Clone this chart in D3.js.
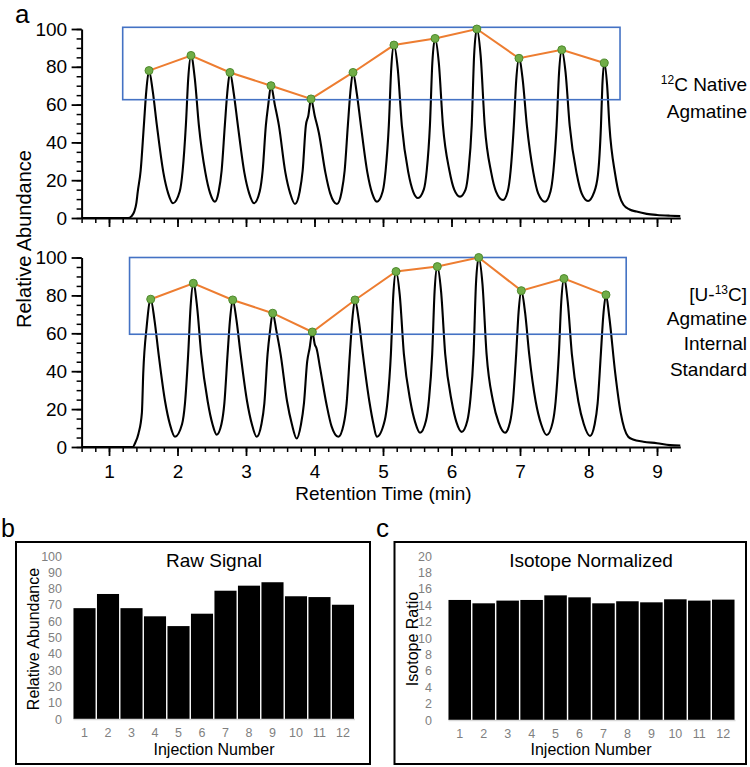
<!DOCTYPE html>
<html><head><meta charset="utf-8">
<script src="https://cdn.jsdelivr.net/npm/d3@7"></script>
<style>
body{margin:0;background:#fff}
svg{display:block}
text{font-family:"Liberation Sans",Arial,sans-serif}
</style>
</head><body>
<svg id="fig" width="750" height="767"></svg>
<script>
// ---------- DATA ----------
// Chromatogram traces: [retention time (min), relative abundance]
const nativeTrace = [
 [0.6,0],[1.28,0],[1.33,1],[1.37,3.5],[1.40,8],
 [1.42,14],[1.462,25],[1.509,49],[1.544,67],[1.584,78],[1.639,67],[1.699,49],[1.794,24],[1.864,13],[1.934,7.8],
 [2.032,14],[2.075,25],[2.122,49],[2.157,74],[2.197,86],[2.252,74],[2.312,49],[2.407,24],[2.477,13],[2.547,8.6],
 [2.601,14],[2.644,25],[2.691,49],[2.726,66],[2.766,77],[2.821,66],[2.881,49],[2.976,24],[3.046,13],[3.117,7.8],
 [3.200,14],[3.243,25],[3.290,49],[3.325,60],[3.365,70],[3.420,60],[3.480,49],[3.575,24],[3.645,13],[3.715,7.4],
 [3.784,14],[3.827,25],[3.874,49],[3.909,54],[3.949,63],[4.004,54],[4.064,45],[4.159,24],[4.229,13],[4.328,7.4],
 [4.397,14],[4.440,25],[4.487,49],[4.522,66],[4.562,77],[4.617,66],[4.677,49],[4.772,24],[4.842,13],[4.912,8.6],
 [4.995,14],[5.038,25],[5.085,49],[5.120,79],[5.160,91.5],[5.215,79],[5.275,49],[5.370,24],[5.440,14],[5.511,10.6],
 [5.595,15],[5.638,25],[5.685,49],[5.720,82],[5.760,95],[5.815,82],[5.875,49],[5.970,25],[6.040,15],[6.124,11.3],
 [6.205,15],[6.248,25],[6.295,49],[6.330,86],[6.370,100],[6.425,86],[6.485,49],[6.580,24],[6.650,14],[6.752,9.5],
 [6.820,14],[6.863,25],[6.910,49],[6.945,73],[6.985,84.5],[7.040,73],[7.100,49],[7.195,24],[7.265,13],[7.365,8.6],
 [7.445,14],[7.488,25],[7.535,49],[7.570,77],[7.610,89],[7.665,77],[7.725,49],[7.830,23],[7.900,13],[7.993,9],
 [8.075,13],[8.138,23],[8.182,49],[8.202,70],[8.230,82],[8.272,70],[8.305,49],[8.390,23],[8.450,12],[8.510,7],
 [8.600,4.5],[8.700,3.4],[8.850,2.2],[9.000,1.6],[9.190,1.2],[9.340,1]
];
const nativePeakTimes   = [1.584,2.197,2.766,3.365,3.949,4.562,5.16,5.76,6.37,6.985,7.61,8.23];
const nativePeakHeights = [78,86,77,70,63,77,91.5,95,100,84.5,89,82];
const nativeBoxTimes  = [1.2,8.46];
const nativeBoxValues = [62.6,100.9];

const labeledTrace = [
 [0.6,0],[1.35,0],[1.38,2],[1.43,7],
 [1.48,18],[1.50,39],[1.55,63.5],[1.609,78],[1.664,67],[1.724,49],[1.819,24],[1.889,12],[1.963,5.4],
 [2.066,12],[2.109,23],[2.156,49],[2.191,74],[2.231,86.4],[2.286,74],[2.346,49],[2.441,24],[2.511,12],[2.572,6.5],
 [2.641,12],[2.684,23],[2.731,49],[2.766,67],[2.806,77.6],[2.861,67],[2.921,49],[3.016,24],[3.086,12],[3.156,5.4],
 [3.225,12],[3.268,23],[3.315,49],[3.350,61],[3.390,70.6],[3.445,61],[3.505,49],[3.600,24],[3.670,12],[3.740,4.5],
 [3.803,12],[3.846,23],[3.893,45],[3.928,52],[3.968,60.7],[4.005,54],[4.030,52],[4.080,42],[4.178,22],[4.248,11],[4.348,5.4],
 [4.426,12],[4.469,23],[4.516,49],[4.551,67],[4.591,77.6],[4.646,67],[4.706,49],[4.801,24],[4.861,12],[4.908,5.4],
 [5.025,14],[5.068,25],[5.115,49],[5.150,80],[5.190,92.6],[5.245,80],[5.305,49],[5.400,24],[5.470,13],[5.540,7.5],
 [5.628,14],[5.671,25],[5.718,49],[5.753,82],[5.793,95.2],[5.848,82],[5.908,49],[6.003,24],[6.073,13],[6.149,8],
 [6.232,14],[6.275,25],[6.322,49],[6.357,86],[6.397,100],[6.452,86],[6.512,49],[6.607,24],[6.687,13],[6.781,7.5],
 [6.854,13],[6.897,24],[6.944,49],[6.979,71],[7.019,82.5],[7.074,71],[7.134,49],[7.229,24],[7.309,12],[7.390,6.3],
 [7.477,13],[7.520,24],[7.567,49],[7.602,76.5],[7.642,88.9],[7.697,76.5],[7.757,49],[7.852,24],[7.932,12],[8.022,5.8],
 [8.090,12],[8.133,23],[8.180,49],[8.215,69],[8.255,80.3],[8.302,69],[8.390,39],[8.470,18],[8.580,5.4],[8.650,4],
 [8.800,2.8],[9.000,2],[9.190,1],[9.340,0.8]
];
const labeledPeakTimes   = [1.609,2.231,2.806,3.390,3.968,4.591,5.190,5.793,6.397,7.019,7.642,8.255];
const labeledPeakHeights = [78,86.4,77.6,70.6,60.7,77.6,92.6,95.2,100,82.5,88.9,80.3];
const labeledBoxTimes  = [1.30,8.55];
const labeledBoxValues = [59.5,100];

const rtTicks = [1,2,3,4,5,6,7,8,9];
const abundanceTicks = [0,20,40,60,80,100];

// Bar charts
const injections = [1,2,3,4,5,6,7,8,9,10,11,12];
const rawSignal = [68,76.7,68,63,57,64.6,78.7,81.8,83.9,75.3,74.8,70.1];
const isotopeRatio = [14.64,14.23,14.56,14.64,15.2,14.96,14.23,14.48,14.35,14.72,14.56,14.68];
const rawTicks = [0,10,20,30,40,50,60,70,80,90,100];
const ratioTicks = [0,2,4,6,8,10,12,14,16,18,20];

// ---------- DRAW ----------
const svg = d3.select("#fig");
const FONT = '"Liberation Sans",Arial,sans-serif';
const ORANGE = "#ED7D31", GREEN = "#70AD47", GREEN_DARK = "#4E8A2E", BLUE = "#4472C4";

const x = d3.scaleLinear().domain([0.6, 9.34]).range([81.6, 680.3]);

function chromatogram(trace, pTimes, pHeights, boxT, boxV, yBottom, yTop, showLabels) {
  const y = d3.scaleLinear().domain([0, 100]).range([yBottom, yTop]);
  const g = svg.append("g");

  g.append("g").attr("transform", `translate(${x(0.6)},0)`)
    .call(d3.axisLeft(y).tickValues(d3.range(0, 101, 5)).tickSize(5).tickSizeOuter(0).tickFormat(""))
    .call(a => a.select(".domain").remove())
    .call(a => a.selectAll("line").attr("stroke", "#000").attr("stroke-width", 1.5));
  g.append("g").attr("transform", `translate(${x(0.6)},0)`)
    .call(d3.axisLeft(y).tickValues(abundanceTicks).tickSize(10).tickSizeOuter(0).tickPadding(4.5))
    .call(a => a.select(".domain").attr("stroke", "#000").attr("stroke-width", 2))
    .call(a => a.selectAll("line").attr("stroke", "#000").attr("stroke-width", 1.8))
    .call(a => a.selectAll("text").attr("font-size", 19).attr("fill", "#000").attr("font-family", FONT));

  g.append("g").attr("transform", `translate(0,${yBottom})`)
    .call(d3.axisBottom(x).tickValues(d3.range(3, 47).map(i => i / 5)).tickSize(5).tickSizeOuter(0).tickFormat(""))
    .call(a => a.select(".domain").remove())
    .call(a => a.selectAll("line").attr("stroke", "#000").attr("stroke-width", 1.5));
  g.append("g").attr("transform", `translate(0,${yBottom})`)
    .call(d3.axisBottom(x).tickValues(rtTicks).tickSize(9).tickSizeOuter(0).tickPadding(8.5)
      .tickFormat(showLabels ? d3.format("d") : ""))
    .call(a => a.select(".domain").attr("stroke", "#000").attr("stroke-width", 2))
    .call(a => a.selectAll("line").attr("stroke", "#000").attr("stroke-width", 1.8))
    .call(a => a.selectAll("text").attr("font-size", 19).attr("fill", "#000").attr("font-family", FONT));

  const line = d3.line().x(d => x(d[0])).y(d => y(d[1])).curve(d3.curveMonotoneX);
  g.append("path").datum(trace).attr("d", line)
    .attr("fill", "none").attr("stroke", "#000").attr("stroke-width", 2.1).attr("stroke-linejoin", "round");

  g.append("rect")
    .attr("x", x(boxT[0])).attr("y", y(boxV[1]))
    .attr("width", x(boxT[1]) - x(boxT[0])).attr("height", y(boxV[0]) - y(boxV[1]))
    .attr("fill", "none").attr("stroke", BLUE).attr("stroke-width", 1.6);

  const peaks = pTimes.map((t, i) => [t, pHeights[i]]);
  g.append("path").datum(peaks)
    .attr("d", d3.line().x(d => x(d[0])).y(d => y(d[1])))
    .attr("fill", "none").attr("stroke", ORANGE).attr("stroke-width", 2);
  g.selectAll("circle.pk").data(peaks).join("circle")
    .attr("cx", d => x(d[0])).attr("cy", d => y(d[1])).attr("r", 4)
    .attr("fill", GREEN).attr("stroke", GREEN_DARK).attr("stroke-width", 1);
}

chromatogram(nativeTrace, nativePeakTimes, nativePeakHeights, nativeBoxTimes, nativeBoxValues, 218, 29, false);
chromatogram(labeledTrace, labeledPeakTimes, labeledPeakHeights, labeledBoxTimes, labeledBoxValues, 447, 257.5, true);

svg.append("text").attr("transform", "translate(31,239) rotate(-90)")
  .attr("text-anchor", "middle").attr("font-size", 20).text("Relative Abundance");
svg.append("text").attr("x", 383.5).attr("y", 500).attr("text-anchor", "middle")
  .attr("font-size", 19).text("Retention Time (min)");

svg.append("text").attr("x", 15).attr("y", 23).attr("font-size", 26).text("a");
svg.append("text").attr("x", 1).attr("y", 537).attr("font-size", 25).text("b");
svg.append("text").attr("x", 376).attr("y", 537).attr("font-size", 26).text("c");

function rlabel(y, parts) {
  const t = svg.append("text").attr("x", 747).attr("y", y).attr("text-anchor", "end").attr("font-size", 19);
  parts.forEach(p => {
    const s = t.append("tspan").text(p[0]);
    if (p[1] === "sup") s.attr("font-size", 12).attr("dy", -7);
    if (p[1] === "after") s.attr("dy", 7);
  });
}
rlabel(91, [["12", "sup"], ["C Native", "after"]]);
rlabel(118, [["Agmatine"]]);
rlabel(301, [["[U-"], ["13", "sup"], ["C]", "after"]]);
rlabel(325, [["Agmatine"]]);
rlabel(350, [["Internal"]]);
rlabel(376, [["Standard"]]);

// ---------- BAR PANELS ----------
function barPanel(opts) {
  const g = svg.append("g");
  g.append("rect").attr("x", opts.frame[0]).attr("y", opts.frame[1])
    .attr("width", opts.frame[2]).attr("height", opts.frame[3])
    .attr("fill", "none").attr("stroke", "#000").attr("stroke-width", 2);
  const xb = d3.scaleBand().domain(injections).range(opts.xr).paddingInner(0.06).paddingOuter(0.02);
  const yb = d3.scaleLinear().domain([0, opts.max]).range(opts.yr);

  g.selectAll("rect.bar").data(opts.values).join("rect")
    .attr("x", (d, i) => xb(injections[i])).attr("width", xb.bandwidth())
    .attr("y", d => yb(d)).attr("height", d => yb(0) - yb(d)).attr("fill", "#000");

  g.append("g").attr("transform", `translate(0,${yb(0)})`)
    .call(d3.axisBottom(xb).tickSize(0).tickPadding(9).tickSizeOuter(0))
    .call(a => a.select(".domain").attr("stroke", "#d9d9d9").attr("stroke-width", 1.5))
    .call(a => a.selectAll("text").attr("font-size", 12.5).attr("fill", "#7f7f7f").attr("font-family", FONT));
  g.append("g").attr("transform", `translate(${opts.xr[0]},0)`)
    .call(d3.axisLeft(yb).tickValues(opts.ticks).tickSize(0).tickPadding(opts.pad))
    .call(a => a.select(".domain").remove())
    .call(a => a.selectAll("text").attr("font-size", 12.5).attr("fill", "#7f7f7f").attr("font-family", FONT));

  g.append("text").attr("x", opts.titleX).attr("y", 567).attr("text-anchor", "middle")
    .attr("font-size", 19).text(opts.title);
  g.append("text").attr("transform", `translate(${opts.ylabX},639) rotate(-90)`)
    .attr("text-anchor", "middle").attr("font-size", 16).text(opts.ylab);
  g.append("text").attr("x", opts.titleX).attr("y", 755).attr("text-anchor", "middle")
    .attr("font-size", 16).text("Injection Number");
}

barPanel({frame: [16, 542, 354, 222], xr: [73, 354.5], yr: [719, 556], max: 100,
  values: rawSignal, ticks: rawTicks, pad: 11, title: "Raw Signal", titleX: 214,
  ylab: "Relative Abundance", ylabX: 39});
barPanel({frame: [394.5, 542, 351.5, 222], xr: [448, 735], yr: [720, 556], max: 20,
  values: isotopeRatio, ticks: ratioTicks, pad: 16, title: "Isotope Normalized", titleX: 591,
  ylab: "Isotope Ratio", ylabX: 418});
</script>
</body></html>
